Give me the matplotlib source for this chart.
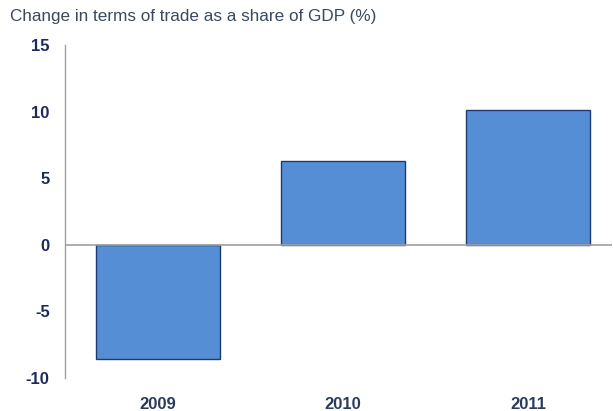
import matplotlib
matplotlib.use("Agg")
import matplotlib.pyplot as plt

# data
years = ["2009", "2010", "2011"]
change = [-8.6, 6.3, 10.1]
y_ticks = [-10, -5, 0, 5, 10, 15]

plt.rcParams["font.family"] = ["Liberation Sans", "DejaVu Sans"]

fig = plt.figure(figsize=(6.13, 4.11), dpi=100)
ax = fig.add_axes([65 / 613, 1 - 378 / 411, 1 - 65 / 613 - 0.002, (378 - 45) / 411])

x = list(range(len(years)))
ax.bar(x, change, width=0.67, color="#558ED5", edgecolor="#1F3A73", linewidth=1.0, zorder=2)
ax.axhline(0, color="#A0A0A0", linewidth=1.2, zorder=3)

ax.set_ylim(-10, 15)
ax.set_xlim(-0.5, 2.45)
ax.set_yticks(y_ticks)
ax.set_yticklabels([str(v) for v in y_ticks])
ax.set_xticks(x)
ax.set_xticklabels(years)

for s in ["top", "right", "bottom"]:
    ax.spines[s].set_visible(False)
ax.spines["left"].set_color("#A0A0A0")
ax.spines["left"].set_linewidth(1.0)

ax.tick_params(axis="y", length=0, pad=11, labelsize=12, labelcolor="#1B2A5C")
ax.tick_params(axis="x", length=0, pad=13.5, labelsize=12, labelcolor="#2B3B5C")
for lbl in ax.get_yticklabels() + ax.get_xticklabels():
    lbl.set_fontweight("bold")

fig.text(10 / 613, 1 - 17 / 411, "Change in terms of trade as a share of GDP (%)",
         fontsize=12.3, color="#3A4A5C", va="center", ha="left")

fig.savefig("out.png", dpi=100)
